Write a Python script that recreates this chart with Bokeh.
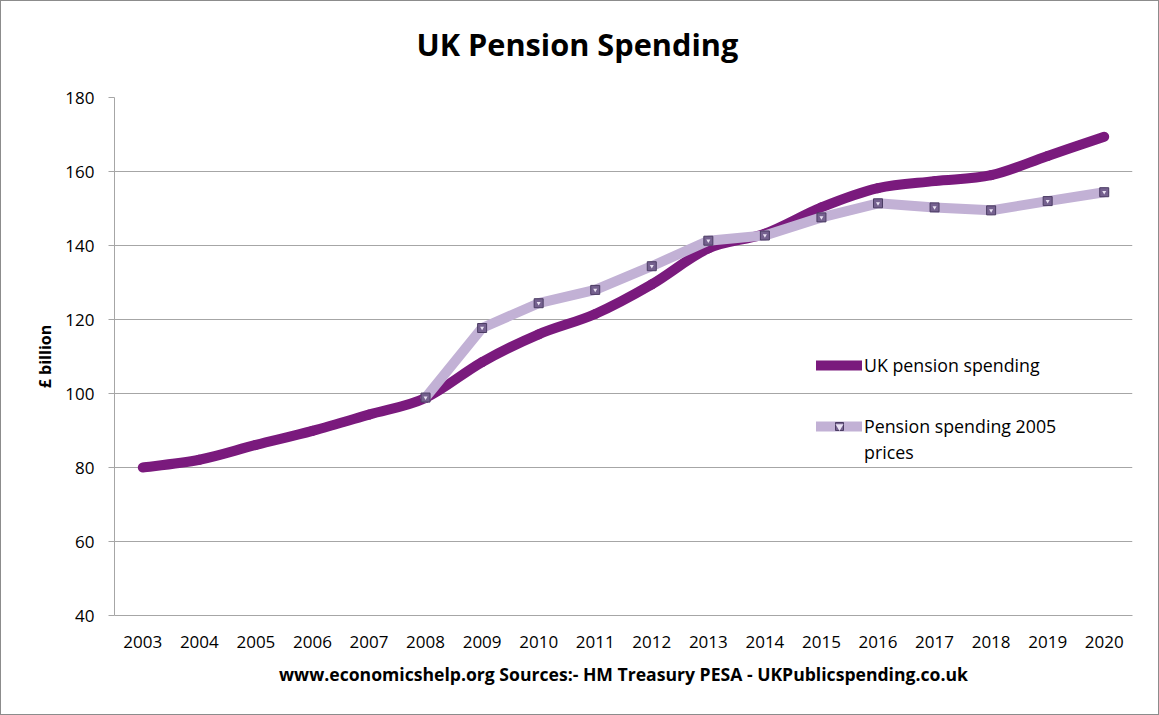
from bokeh.plotting import figure
from bokeh.models import ColumnDataSource, Range1d, FixedTicker, Legend, LegendItem, Title
from bokeh.embed import file_html
from bokeh.resources import INLINE

# ---- data ----
years = list(range(2003, 2021))
uk_pension_spending = [80.0, 82.1, 86.1, 89.9, 94.3, 98.8, 108.5, 116.0, 121.5,
                       129.5, 139.2, 143.2, 150.3, 155.5, 157.4, 159.0, 164.2, 169.4]
pension_2005_years = list(range(2008, 2021))
pension_2005_prices = [98.9, 117.7, 124.4, 128.0, 134.4, 141.3, 142.7, 147.6,
                       151.4, 150.3, 149.5, 152.0, 154.4]
y_ticks = [40, 60, 80, 100, 120, 140, 160, 180]

title_text = "UK Pension Spending"
y_label = "£ billion"
x_label = "www.economicshelp.org Sources:- HM Treasury PESA - UKPublicspending.co.uk"
series_names = ["UK pension spending", "Pension spending 2005", "prices"]

# ---- styles ----
DARK = "#7a1a7d"
LIGHT = "#c2b1d5"
GRID = "#a6a6a6"
FONT = "Open Sans"

p = figure(width=1159, height=715, output_backend="svg", toolbar_location=None,
           x_range=Range1d(2002.5, 2020.5), y_range=Range1d(40, 180),
           min_border_left=113, min_border_right=28, min_border_top=96,
           min_border_bottom=101, title=None)
p.outline_line_color = None
p.background_fill_color = "white"
p.border_fill_color = "white"
p.styles = {"border": "1px solid #8c8c8c"}

# title
title = Title(text=title_text, align="left", offset=302, standoff=0,
              text_font=FONT, text_font_size="30.7px", text_font_style="bold",
              text_color="black",
              padding=dict(left=0, right=0, top=0, bottom=33))
p.add_layout(title, "above")

# axes
p.xaxis.ticker = FixedTicker(ticks=years)
p.xaxis.major_label_overrides = {y: str(y) for y in years}
p.xaxis.major_tick_out = 0
p.xaxis.major_tick_in = 0
p.xaxis.minor_tick_out = 0
p.xaxis.axis_line_color = GRID
p.xaxis.major_label_text_font = FONT
p.xaxis.major_label_text_font_size = "17px"
p.xaxis.major_label_text_color = "black"
p.xaxis.major_label_standoff = 20
p.xaxis.axis_label = x_label
p.xaxis.axis_label_text_font = FONT
p.xaxis.axis_label_text_font_size = "17.6px"
p.xaxis.axis_label_text_font_style = "bold"
p.xaxis.axis_label_text_color = "black"
p.xaxis.axis_label_standoff = 11

p.yaxis.ticker = FixedTicker(ticks=y_ticks)
p.yaxis.major_tick_out = 6
p.yaxis.major_tick_in = 0
p.yaxis.minor_tick_out = 0
p.yaxis.minor_tick_in = 0
p.yaxis.major_tick_line_color = GRID
p.yaxis.axis_line_color = GRID
p.yaxis.major_label_text_font = FONT
p.yaxis.major_label_text_font_size = "17px"
p.yaxis.major_label_text_color = "black"
p.yaxis.major_label_standoff = 14
p.yaxis.axis_label = y_label
p.yaxis.axis_label_text_font = FONT
p.yaxis.axis_label_text_font_size = "16px"
p.yaxis.axis_label_text_font_style = "bold"
p.yaxis.axis_label_text_color = "black"
p.yaxis.axis_label_standoff = 6

p.xgrid.grid_line_color = None
p.ygrid.grid_line_color = GRID
p.ygrid.grid_line_width = 1

# smoothed dark line (Bezier segments with Catmull-Rom control points)
n = len(years)
def pt(i):
    i = min(max(i, 0), n - 1)
    return years[i], uk_pension_spending[i]

seg = dict(x0=[], y0=[], x1=[], y1=[], cx0=[], cy0=[], cx1=[], cy1=[])
for i in range(n - 1):
    xa, ya = pt(i - 1)
    xb, yb = pt(i)
    xc, yc = pt(i + 1)
    xd, yd = pt(i + 2)
    seg["x0"].append(xb); seg["y0"].append(yb)
    seg["x1"].append(xc); seg["y1"].append(yc)
    seg["cx0"].append(xb + (xc - xa) / 6); seg["cy0"].append(yb + (yc - ya) / 6)
    seg["cx1"].append(xc - (xd - xb) / 6); seg["cy1"].append(yc - (yd - yb) / 6)
src = ColumnDataSource(seg)
bez = p.bezier(x0="x0", y0="y0", x1="x1", y1="y1", cx0="cx0", cy0="cy0",
               cx1="cx1", cy1="cy1", source=src, line_color=DARK, line_width=10,
               line_cap="round")

# light series
ln2 = p.line(pension_2005_years, pension_2005_prices, line_color=LIGHT,
             line_width=10, line_join="round", line_cap="round")
sq = p.scatter(pension_2005_years, pension_2005_prices, marker="square", size=9,
               fill_color="#75618f", line_color="#4b3c63", line_width=1)
tri = p.scatter(pension_2005_years, pension_2005_prices, marker="inverted_triangle",
                size=4, fill_color="#eae2f3", line_color=None)
blank = p.scatter(x=[], y=[], size=1, fill_alpha=0, line_alpha=0)


def style_legend(lg):
    lg.padding = 0
    lg.margin = 0
    lg.spacing = 37
    lg.glyph_width = 46
    lg.glyph_height = 20
    lg.label_standoff = 2
    lg.label_text_font = FONT
    lg.label_text_font_size = "17.8px"
    lg.label_text_color = "black"
    lg.border_line_color = None
    lg.background_fill_alpha = 0


legend = Legend(items=[LegendItem(label=series_names[0], renderers=[bez]),
                       LegendItem(label=series_names[1], renderers=[ln2, sq, tri])],
                location=(702, 177))
style_legend(legend)
p.add_layout(legend)

legend2 = Legend(items=[LegendItem(label=series_names[2], renderers=[blank])],
                 location=(702, 151))
style_legend(legend2)
p.add_layout(legend2)

open("out.html", "w").write(file_html(p, INLINE))
